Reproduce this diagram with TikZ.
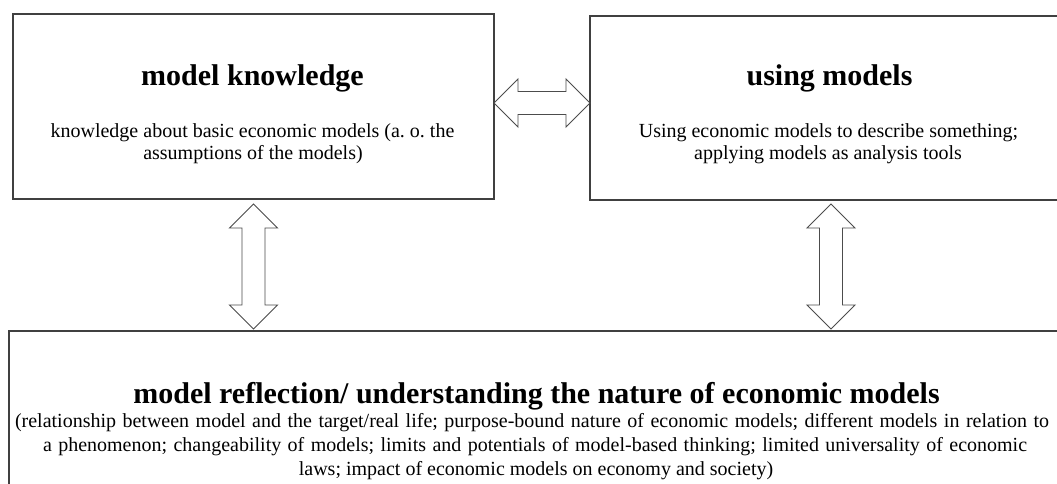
\documentclass[tikz,border=0pt]{standalone}
\usepackage{fontspec}
\setmainfont{Liberation Serif}
\usetikzlibrary{calc}
\frenchspacing

\definecolor{boxline}{gray}{0.25}
\definecolor{arrowline}{gray}{0.30}

% block arrow geometry (pt): head length, head half width, shaft half width
\newcommand\blkhl{24}
\newcommand\blkhw{24}
\newcommand\blksw{11.5}

% horizontal double block arrow, tip #1 (left) to tip #2 (right)
\newcommand\hblockarrow[2]{%
  \draw[blockarrow] (#1) -- ($(#1)+(\blkhl,-\blkhw)$) -- ($(#1)+(\blkhl,-\blksw)$)
    -- ($(#2)+(-\blkhl,-\blksw)$) -- ($(#2)+(-\blkhl,-\blkhw)$) -- (#2)
    -- ($(#2)+(-\blkhl,\blkhw)$) -- ($(#2)+(-\blkhl,\blksw)$)
    -- ($(#1)+(\blkhl,\blksw)$) -- ($(#1)+(\blkhl,\blkhw)$) -- cycle;}

% vertical double block arrow, tip #1 (top) to tip #2 (bottom)
\newcommand\vblockarrow[2]{%
  \draw[blockarrow] (#1) -- ($(#1)+(\blkhw,\blkhl)$) -- ($(#1)+(\blksw,\blkhl)$)
    -- ($(#2)+(\blksw,-\blkhl)$) -- ($(#2)+(\blkhw,-\blkhl)$) -- (#2)
    -- ($(#2)+(-\blkhw,-\blkhl)$) -- ($(#2)+(-\blksw,-\blkhl)$)
    -- ($(#1)+(-\blksw,\blkhl)$) -- ($(#1)+(-\blkhw,\blkhl)$) -- cycle;}

\begin{document}
\begin{tikzpicture}[x=1pt,y=-1pt,
  box/.style={draw=boxline, line width=1.3pt, rectangle, inner sep=0pt, outer sep=0pt},
  ttl/.style={font=\fontsize{30}{36}\selectfont\bfseries, inner sep=0pt, anchor=base},
  txt/.style={font=\fontsize{20}{24}\selectfont, inner sep=0pt, anchor=base},
  blockarrow/.style={draw=arrowline, line width=0.9pt, fill=white, line join=miter}]

\useasboundingbox[fill=white] (0,0) rectangle (1057,484);

% the three boxes (right and bottom ones run past the page edge)
\node[box, minimum width=481pt, minimum height=185pt] (kn) at (253.5,106.5) {};
\node[box, minimum width=482pt, minimum height=184pt] (um) at (831,108) {};
\node[box, minimum width=1059pt, minimum height=200pt] (mr) at (538.5,431) {};

% box texts
\node[ttl] (kn-title) at (252.5,86) {model knowledge};
\node[txt] (kn-l1) at (252.5,138) {knowledge about basic economic models (a. o. the};
\node[txt] (kn-l2) at (253,160) {assumptions of the models)};

\node[ttl] (um-title) at (829.5,86) {using models};
\node[txt] (um-l1) at (828.5,138) {Using economic models to describe something;};
\node[txt] (um-l2) at (828,160) {applying models as analysis tools};

\node[ttl] (mr-title) at (536.5,403) {model reflection/ understanding the nature of economic models};
\node[txt] (mr-l1) at (532,427) {\hbox to 1034pt{(relationship between model and the target/real life; purpose-bound nature of economic models; different models in relation to}};
\node[txt] (mr-l2) at (535,451) {\hbox to 984pt{a phenomenon; changeability of models; limits and potentials of model-based thinking; limited universality of economic}};
\node[txt] (mr-l3) at (536,475) {laws; impact of economic models on economy and society)};

% arrow end points
\coordinate (hA) at ($(kn.east)+(0,-3.5)$);
\coordinate (hB) at ($(um.west)+(0,-5)$);
\coordinate (vA1) at ($(kn.south)+(0,5)$);
\coordinate (vA2) at ($(kn.south |- mr.north)+(0,-2)$);
\coordinate (vB1) at ($(um.south)+(0,4)$);
\coordinate (vB2) at ($(um.south |- mr.north)+(0,-2)$);

% double block arrows between the boxes
\hblockarrow{hA}{hB}
\vblockarrow{vA1}{vA2}
\vblockarrow{vB1}{vB2}

\end{tikzpicture}
\end{document}
